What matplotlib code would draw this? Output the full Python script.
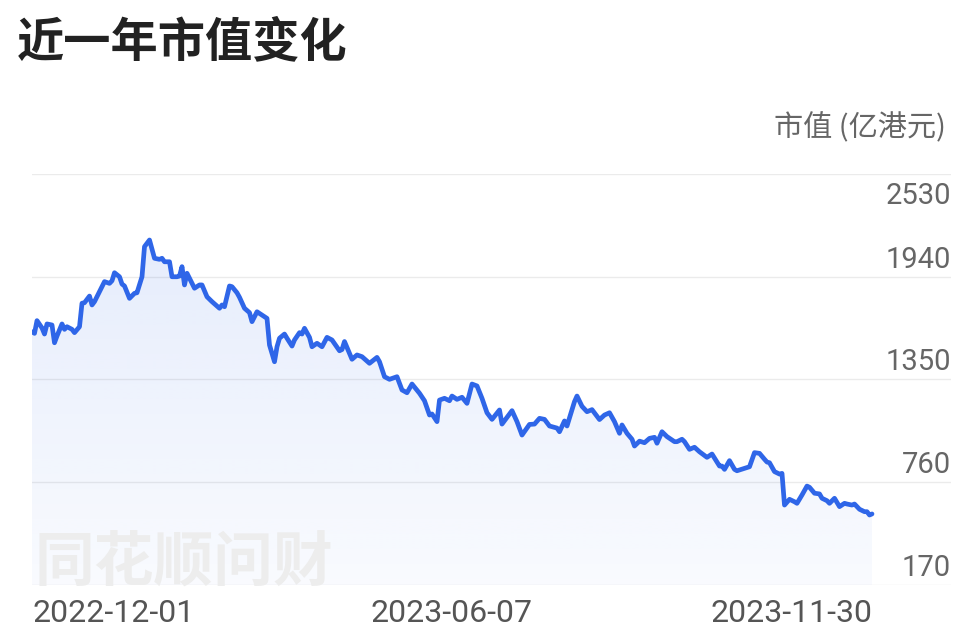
import matplotlib
matplotlib.use("Agg")
import matplotlib.pyplot as plt
import matplotlib.transforms as mtransforms
from matplotlib.patches import Polygon
import numpy as np

plt.rcParams['font.family'] = ['Noto Sans CJK SC', 'DejaVu Sans']

title = "近一年市值变化"
unit_label = "市值 (亿港元)"
watermark = "同花顺问财"
x_labels = ["2022-12-01", "2023-06-07", "2023-11-30"]
y_ticks = [170, 760, 1350, 1940, 2530]

# trading-step index and market value (亿港元)
idx = [0, 1, 2, 4, 5, 6, 8, 9, 10, 12, 13, 14, 16, 17, 19, 20, 21, 23, 24, 25,
       27, 29, 31, 32, 33, 35, 36, 37, 39, 41, 42, 44, 45, 47, 49, 51, 52, 53, 55, 56,
       58, 59, 60, 61, 62, 63, 65, 67, 68, 70, 72, 75, 76, 77, 79, 80, 82, 83, 85, 87,
       88, 90, 92, 94, 95, 97, 98, 99, 101, 102, 104, 105, 107, 108, 109, 111, 112, 114, 116, 118,
       120, 123, 124, 125, 128, 130, 132, 135, 138, 139, 141, 143, 146, 148, 150, 152, 155, 157, 159, 160,
       162, 163, 165, 167, 168, 170, 172, 174, 176, 178, 180, 182, 184, 187, 188, 192, 194, 196, 199, 201,
       203, 205, 207, 210, 211, 213, 214, 217, 218, 220, 222, 224, 227, 229, 231, 233, 235, 236, 238, 240,
       241, 243, 245, 247, 249, 250, 252, 254, 257, 258, 260, 261, 263, 265, 267, 270, 272, 275, 276, 277,
       279, 281, 282, 285, 287, 289, 291, 293, 294, 295, 297, 299, 300, 301, 303, 305, 306, 308, 310, 311,
       313, 315, 316, 318, 319, 321, 323, 325, 326, 328, 329, 331, 333, 334, 335, 336]
values = [1624, 1615, 1688, 1646, 1611, 1669, 1663, 1561, 1600, 1669, 1638, 1653, 1638, 1619, 1653, 1788, 1791, 1829, 1778, 1797,
          1854, 1912, 1902, 1917, 1963, 1940, 1898, 1887, 1816, 1845, 1848, 1940, 2113, 2151, 2046, 2040, 2046, 2026, 2026, 1940,
          1940, 1944, 1998, 1893, 1960, 1931, 1874, 1893, 1893, 1825, 1797, 1759, 1778, 1768, 1887, 1883, 1848, 1822, 1759, 1734,
          1682, 1739, 1720, 1701, 1548, 1452, 1538, 1587, 1611, 1587, 1542, 1577, 1619, 1611, 1644, 1592, 1538, 1558, 1538, 1592,
          1577, 1515, 1522, 1568, 1466, 1491, 1481, 1443, 1477, 1452, 1366, 1351, 1366, 1290, 1274, 1324, 1271, 1228, 1146, 1152,
          1108, 1232, 1242, 1228, 1255, 1236, 1248, 1213, 1324, 1313, 1242, 1159, 1121, 1175, 1094, 1171, 1108, 1031, 1092, 1094,
          1127, 1121, 1083, 1071, 1050, 1112, 1083, 1223, 1255, 1196, 1165, 1177, 1120, 1146, 1159, 1108, 1041, 1089, 1041, 1007,
          968, 996, 987, 1012, 1018, 984, 1050, 1022, 993, 993, 1007, 993, 949, 961, 935, 903, 922, 853, 853, 834,
          884, 834, 826, 840, 849, 930, 926, 892, 876, 872, 821, 807, 811, 629, 662, 648, 639, 687, 738, 731,
          697, 693, 668, 654, 639, 668, 620, 639, 635, 629, 635, 605, 591, 591, 572, 578]

W, H = 971, 633
fig = plt.figure(figsize=(W / 100, H / 100), dpi=100)
fig.patch.set_facecolor('white')

ax_left, ax_right, ax_top, ax_bottom = 32, 951, 174, 585
ax = fig.add_axes([ax_left / W, 1 - ax_bottom / H, (ax_right - ax_left) / W, (ax_bottom - ax_top) / H])
ax.set_facecolor('none')
x_end = idx[-1]
ax.set_xlim(0, x_end * (ax_right - ax_left) / (872 - ax_left))
ax.set_ylim(y_ticks[0], y_ticks[-1])
for s in ax.spines.values():
    s.set_visible(False)
ax.set_xticks([])
ax.set_yticks([])

# watermark (behind)
fig.text(34 / W, 1 - 581 / H, watermark, fontsize=43, fontweight='bold', color='#ededed',
         ha='left', va='baseline', zorder=0, family=['Noto Sans CJK SC', 'DejaVu Sans'])

# grid lines
for yv in y_ticks:
    ax.axhline(yv, color='#ebebeb', lw=1.0, zorder=1)

# gradient fill under line
verts = [(idx[0], y_ticks[0])] + list(zip(idx, values)) + [(idx[-1], y_ticks[0])]
poly = Polygon(verts, closed=True, facecolor='none', edgecolor='none')
ax.add_patch(poly)
grad = np.linspace(1, 0, 256).reshape(-1, 1)
base = np.array([0x2f, 0x66, 0xe8]) / 255.0
alpha = 0.03 + 0.09 * grad
img = np.zeros((256, 1, 4))
img[..., :3] = base
img[..., 3] = alpha
im = ax.imshow(img, extent=[idx[0], idx[-1], y_ticks[0], max(values)], aspect='auto',
               origin='upper', zorder=2, interpolation='bilinear')
im.set_clip_path(poly)

ax.plot(idx, values, color='#2f66e8', lw=3.4, solid_joinstyle='round', solid_capstyle='round', zorder=3)

# y labels on the right
trans = mtransforms.blended_transform_factory(ax.transAxes, ax.transData)
for yv in y_ticks:
    if yv == y_ticks[-1]:
        t = mtransforms.offset_copy(trans, fig=fig, x=0, y=-8, units='dots')
        ax.text(1.0, yv, str(yv), transform=t, ha='right', va='top', fontsize=21, color='#666666',
                family=['Roboto', 'DejaVu Sans'])
    else:
        t = mtransforms.offset_copy(trans, fig=fig, x=0, y=3, units='dots')
        ax.text(1.0, yv, str(yv), transform=t, ha='right', va='bottom', fontsize=21, color='#666666',
                family=['Roboto', 'DejaVu Sans'])

# x labels
transx = mtransforms.blended_transform_factory(ax.transData, fig.transFigure)
xpos = [idx[0], (idx[0] + idx[-1]) / 2, idx[-1]]
has = ['left', 'center', 'right']
for xp, lab, ha in zip(xpos, x_labels, has):
    ax.text(xp, 1 - 614 / H, lab, transform=transx, ha=ha, va='center', fontsize=23,
            color='#555555', family=['Roboto', 'DejaVu Sans'])

fig.text(17 / W, 1 - 42 / H, title, fontsize=34, fontweight='bold', color='#222222',
         ha='left', va='center')
fig.text(946 / W, 1 - 128 / H, unit_label, fontsize=21, color='#666666', ha='right', va='center')

fig.savefig('out.png', dpi=100, facecolor='white')
